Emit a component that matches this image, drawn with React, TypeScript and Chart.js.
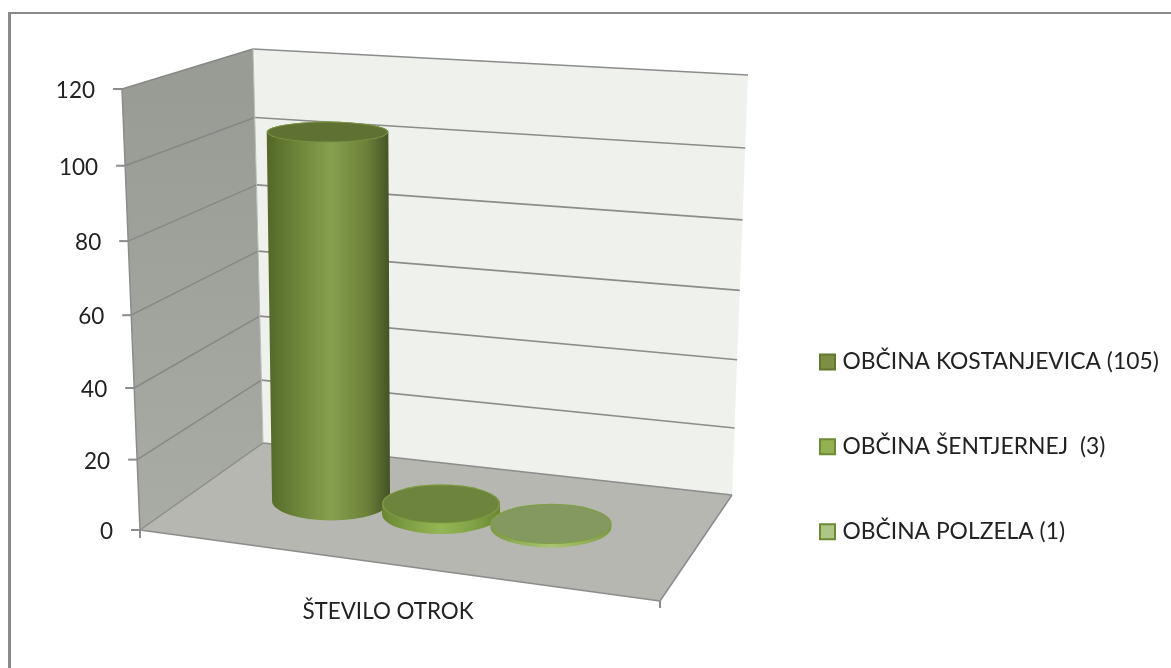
import React, { useEffect, useRef } from "react";
import { Chart, BarController, BarElement, CategoryScale, LinearScale, Legend } from "chart.js";

const categories = ["ŠTEVILO OTROK"];
const seriesNames = ["OBČINA KOSTANJEVICA (105)", "OBČINA ŠENTJERNEJ  (3)", "OBČINA POLZELA (1)"];
const kostanjevica = [105];
const sentjernej = [3];
const polzela = [1];
const legendFill = ["#7c8f43", "#93b052", "#adc585"];
const legendEdge = ["#61782f", "#6d8a35", "#6d8a35"];
const topFill = ["#5f7233", "#6d843c", "#84995f"];
const rimFill = ["#7b9244", "#7f9a44", "#7f9f48"];
const sideStops = [
  ["#566b2a", "#6b8438", "#87a04f", "#6a8038", "#3f4f24"],
  ["#6a8634", "#7f9f44", "#95b655", "#7f9f44", "#6a8634"],
  ["#7b9842", "#93b058", "#a8c470", "#93b058", "#7b9842"],
];
const yTicksMax = 120;
const yTicksStep = 20;

const lerp = (a: number, b: number, t: number) => a + (b - a) * t;
const PERSPECTIVE = 1.053;
const FRONT_BOTTOM_X = 140;
const FRONT_TOP_X = 122;
const AREA_TOP = 89;
const AREA_BOTTOM = 530;
const frontX = (px: number) => lerp(FRONT_BOTTOM_X, FRONT_TOP_X, (AREA_BOTTOM - px) / (AREA_BOTTOM - AREA_TOP));

class PerspectiveScale extends LinearScale {
  static id = "perspective";
  static defaults = LinearScale.defaults;
  getPixelForDecimal(d: number) {
    const k = d / (d + PERSPECTIVE * (1 - d));
    return super.getPixelForDecimal(k);
  }
  _computeLabelItems(area: any) {
    const items = (LinearScale.prototype as any)._computeLabelItems.call(this, area);
    items.forEach((it: any) => {
      const [x, y] = it.options.translation;
      it.options.translation = [x + frontX(y) - FRONT_BOTTOM_X, y + 2];
    });
    return items;
  }
}

class CylinderController extends BarController {
  static id = "cylinder";
  static defaults = BarController.defaults;
  static overrides = BarController.overrides;
  // Painted by the room plugin, first series first and without the chart-area clip.
  draw() {}
  paintCylinders() {
    const ctx = this.chart.ctx;
    const idx = this.index;
    this.getMeta().data.forEach((bar: any) => {
      const cxBase = bar.x + 53;
      const yBase = 501 + (cxBase - 332) * 0.12;
      const yTop = yBase - (bar.base - bar.y) * 0.962;
      const cxTop = cxBase + (yBase - yTop) * (cxBase - 441) * 0.000087;
      const rxBase = bar.width / 2 + (idx === 2 ? 1.5 : 0);
      const rxTop = rxBase + (yBase - yTop) * 0.005;
      const ry = (y: number) => 10.5 + (y - 132) * 0.0245;
      const ryB = ry(yBase);
      const ryT = ry(yTop);
      const grad = ctx.createLinearGradient(cxBase - rxTop, 0, cxBase + rxTop, 0);
      const stops = sideStops[idx];
      [0, 0.22, 0.5, 0.8, 1].forEach((s, i) => grad.addColorStop(s, stops[i]));
      ctx.save();
      ctx.beginPath();
      ctx.moveTo(cxTop - rxTop, yTop);
      ctx.lineTo(cxBase - rxBase, yBase);
      ctx.ellipse(cxBase, yBase, rxBase, ryB, 0, Math.PI, 0, true);
      ctx.lineTo(cxTop + rxTop, yTop);
      ctx.ellipse(cxTop, yTop, rxTop, ryT, 0, 0, Math.PI, true);
      ctx.closePath();
      ctx.fillStyle = grad;
      ctx.fill();
      ctx.beginPath();
      ctx.ellipse(cxTop, yTop, rxTop, ryT, 0, 0, Math.PI * 2);
      ctx.fillStyle = rimFill[idx];
      ctx.fill();
      ctx.beginPath();
      ctx.ellipse(cxTop, yTop, rxTop - 1.5, ryT - 1, 0, 0, Math.PI * 2);
      ctx.fillStyle = topFill[idx];
      ctx.fill();
      ctx.restore();
    });
  }
}

const EDGE = "#8b8c8b";
const room = {
  id: "room",
  afterLayout(chart: any) {
    const lg = chart.legend;
    const p = lg.options.labels.padding;
    lg.left = 824 - p;
    lg.right = chart.width;
    lg.top = 362 - 11.5 - p;
    lg.bottom = chart.height;
  },
  beforeDraw(chart: any) {
    const ctx = chart.ctx;
    ctx.save();
    ctx.fillStyle = "#fff";
    ctx.fillRect(0, 0, chart.width, chart.height);
    ctx.fillStyle = "#8a8a8a";
    ctx.fillRect(8, 12, chart.width - 8, 2);
    ctx.fillRect(8, 12, 3, chart.height - 12);
    ctx.restore();
  },
  beforeDatasetsDraw(chart: any) {
    const ctx = chart.ctx;
    const y = chart.scales.y;
    const line = (a: number[], b: number[], color = EDGE, w = 1.5) => {
      ctx.beginPath();
      ctx.moveTo(a[0], a[1]);
      ctx.lineTo(b[0], b[1]);
      ctx.strokeStyle = color;
      ctx.lineWidth = w;
      ctx.stroke();
    };
    const poly = (pts: number[][], fill: any) => {
      ctx.beginPath();
      pts.forEach((p, i) => (i ? ctx.lineTo(p[0], p[1]) : ctx.moveTo(p[0], p[1])));
      ctx.closePath();
      ctx.fillStyle = fill;
      ctx.fill();
    };
    const frac = (v: number) => (y.bottom - y.getPixelForValue(v)) / (y.bottom - y.top);
    const front = (v: number) => [lerp(FRONT_BOTTOM_X, FRONT_TOP_X, frac(v)), y.getPixelForValue(v)];
    const backL = (v: number) => [lerp(263, 253, frac(v)), lerp(443, 49, frac(v))];
    const backR = (v: number) => [lerp(732, 748, frac(v)), lerp(495, 75, frac(v))];
    const max = y.max;
    ctx.save();
    const wall = ctx.createLinearGradient(0, y.top, 0, y.bottom);
    wall.addColorStop(0, "#999b95");
    wall.addColorStop(1, "#a9aba5");
    poly([front(0), front(max), backL(max), backL(0)], wall);
    poly([backL(0), backL(max), backR(max), backR(0)], "#eff2ec");
    const frontRight = [660, 601];
    poly([front(0), backL(0), backR(0), frontRight], "#b5b7b0");
    y.ticks.forEach((t: any) => {
      const f = front(t.value);
      if (t.value > 0) line(f, backL(t.value), "#868886", 1.5);
      line(backL(t.value), backR(t.value), EDGE, 1.6);
      line([f[0] - 9, f[1]], f, EDGE, 2);
    });
    line(front(0), front(max));
    line(backL(0), backL(max), "#b9bab6", 1);
    line(front(0), backL(0));
    line(front(0), frontRight);
    line(frontRight, backR(0));
    line(front(0), [front(0)[0], front(0)[1] + 8], EDGE, 2);
    line(frontRight, [frontRight[0], frontRight[1] + 7], EDGE, 2);
    ctx.restore();
  },
  afterDatasetsDraw(chart: any) {
    chart.data.datasets.forEach((_: any, i: number) => {
      chart.getDatasetMeta(i).controller.paintCylinders();
    });
  },
};

Chart.register(CylinderController, BarElement, CategoryScale, LinearScale, PerspectiveScale, Legend);

export default function App() {
  const ref = useRef<HTMLCanvasElement>(null);
  useEffect(() => {
    const values = [kostanjevica, sentjernej, polzela];
    const chart = new Chart(ref.current as any, {
      type: "cylinder" as any,
      data: {
        labels: categories,
        datasets: values.map((data, i) => ({
          label: seriesNames[i],
          data,
          backgroundColor: legendFill[i],
          borderColor: legendEdge[i],
          borderWidth: 2,
          categoryPercentage: 0.665,
          barPercentage: 1.073,
        })),
      },
      options: {
        responsive: false,
        animation: false,
        layout: { padding: { top: AREA_TOP, left: 0, right: 139, bottom: 0 } },
        font: { family: "Lato" },
        scales: {
          x: {
            grid: { display: false },
            border: { display: false },
            ticks: { color: "#222", padding: 60, font: { family: "Lato", size: 22.4 } },
            afterFit: (s: any) => { s.height = 668 - AREA_BOTTOM; },
          },
          y: {
            type: "perspective",
            min: 0,
            max: yTicksMax,
            grid: { display: false, drawTicks: false },
            border: { display: false },
            ticks: { stepSize: yTicksStep, color: "#222", padding: 27, font: { family: "Lato", size: 22.5 } },
            afterFit: (s: any) => { s.width = FRONT_BOTTOM_X; },
          },
        },
        plugins: {
          legend: {
            position: "right",
            align: "start",
            maxWidth: 396,
            labels: {
              usePointStyle: true,
              pointStyle: "rect",
              boxWidth: 7,
              boxHeight: 15,
              padding: 62,
              color: "#222",
              font: { family: "Lato", size: 22.85 },
            },
          },
          tooltip: { enabled: false },
        },
      } as any,
      plugins: [room],
    });
    return () => chart.destroy();
  }, []);
  return (
    <div style={{ position: "fixed", left: 0, top: 0, width: 1171, height: 668 }}>
      <canvas ref={ref} width={1171} height={668} style={{ display: "block" }} />
    </div>
  );
}
